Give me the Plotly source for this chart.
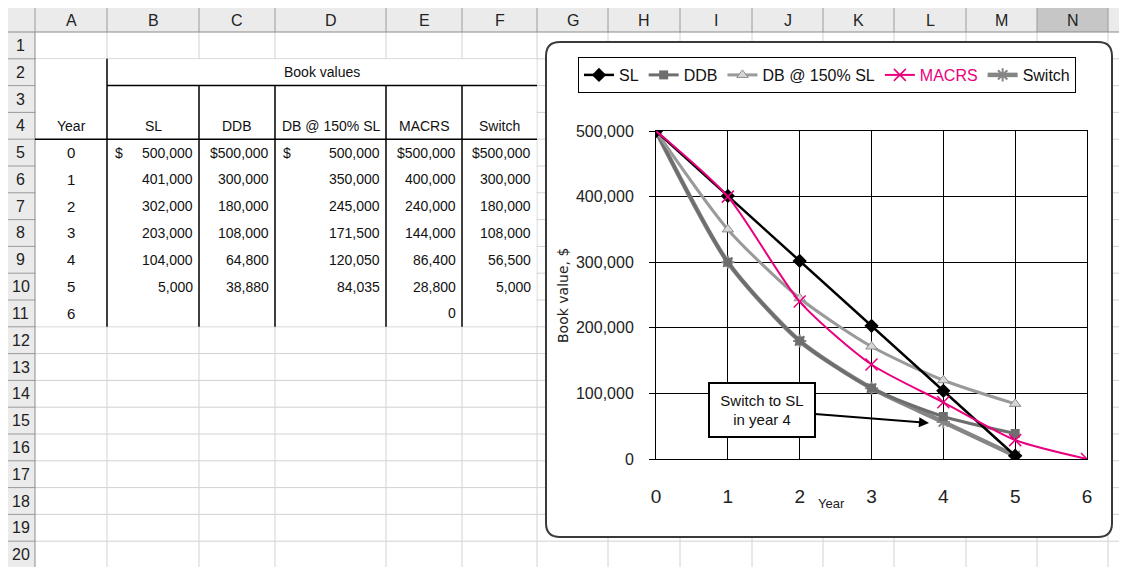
import plotly.graph_objects as go

# ---- data ----
years = [0, 1, 2, 3, 4, 5, 6]
sl = [500000, 401000, 302000, 203000, 104000, 5000]
ddb = [500000, 300000, 180000, 108000, 64800, 38880]
db150 = [500000, 350000, 245000, 171500, 120050, 84035]
macrs = [500000, 400000, 240000, 144000, 86400, 28800, 0]
switch = [500000, 300000, 180000, 108000, 56500, 5000]

series_names = ["SL", "DDB", "DB @ 150% SL", "MACRS", "Switch"]
col_letters = ["A", "B", "C", "D", "E", "F", "G", "H", "I", "J", "K", "L", "M", "N"]
row_numbers = list(range(1, 21))
y_ticks = [0, 100000, 200000, 300000, 400000, 500000]

W, H = 1127, 567
OFF = 8  # page margin of the html body
FONT = "Liberation Sans, Arial, sans-serif"
MAGENTA = "#e8007e"


def px(x):
    return (x - OFF) / W


def py(y):
    return 1 - (y - OFF) / H


# sheet geometry (pixels)
edges = [35, 107, 199, 275, 386, 462, 537, 608, 680, 752, 823, 894, 966, 1037, 1108]
head_top, head_bot, row_h = 6, 32, 26.8


def row_top(r):
    return head_bot + (r - 1) * row_h


shapes = []
annots = []


def line(x0, y0, x1, y1, color, width=1):
    shapes.append(dict(type="line", xref="paper", yref="paper", x0=px(x0), y0=py(y0),
                       x1=px(x1), y1=py(y1), line=dict(color=color, width=width), layer="below"))


def rect(x0, y0, x1, y1, fill, color=None, width=0):
    shapes.append(dict(type="rect", xref="paper", yref="paper", x0=px(x0), y0=py(y0),
                       x1=px(x1), y1=py(y1), fillcolor=fill,
                       line=dict(color=color or fill, width=width), layer="below"))


def text(x, y, s, anchor="center", size=14, color="#111", font=FONT, **kw):
    annots.append(dict(xref="paper", yref="paper", x=px(x), y=py(y), text=s, showarrow=False,
                       xanchor=anchor, yanchor="middle", font=dict(family=font, size=size, color=color), **kw))


# headers
rect(6, head_top, W + OFF, head_bot, "#ebebeb")
rect(6, head_bot, edges[0], H + OFF, "#ebebeb")
rect(edges[-2], head_top, edges[-1], head_bot, "#c6c6c6")

# cell gridlines
for x in edges[1:]:
    line(x, head_bot, x, H + OFF, "#d2d2d2")
for r in range(1, 21):
    line(edges[0], row_top(r + 1), W + OFF, row_top(r + 1), "#d2d2d2")

# table block (white, no gridlines)
rect(edges[0] + 0.5, row_top(2) + 0.5, edges[6] - 0.5, row_top(12) - 0.5, "white")

# header separators
for x in edges:
    line(x, head_top, x, head_bot, "#9a9a9a")
for r in range(1, 21):
    line(6, row_top(r + 1), edges[0], row_top(r + 1), "#9a9a9a")
line(6, head_bot, W + OFF, head_bot, "#8a8a8a")
line(edges[0], head_bot, edges[0], H + OFF, "#8a8a8a")

for i, c in enumerate(col_letters):
    text((edges[i] + edges[i + 1]) / 2, (head_top + head_bot) / 2 + 1, c, size=16, color="#222")
for r in row_numbers:
    text((6 + edges[0]) / 2, row_top(r) + row_h / 2, str(r), size=16, color="#222")

# table borders
line(edges[1], row_top(2), edges[1], row_top(12), "black", 1.5)
for x in edges[2:6]:
    line(x, row_top(3), x, row_top(12), "black", 1.5)
line(edges[1], row_top(3), edges[6], row_top(3), "black", 1.5)
line(edges[0], row_top(5), edges[6], row_top(5), "black", 1.5)

# table text
text((edges[1] + edges[6]) / 2, row_top(2) + row_h / 2, "Book values")
text((edges[0] + edges[1]) / 2, row_top(4) + row_h / 2, "Year")
for j, name in enumerate(series_names):
    text((edges[j + 1] + edges[j + 2]) / 2, row_top(4) + row_h / 2, name)
for i, yr in enumerate(years):
    text((edges[0] + edges[1]) / 2, row_top(5 + i) + row_h / 2, str(yr), size=15)

table_cols = [sl, ddb, db150, macrs, switch]
split_dollar = [True, False, True, False, False]
for j, vals in enumerate(table_cols):
    left, right = edges[j + 1], edges[j + 2]
    for i, v in enumerate(vals):
        yc = row_top(5 + i) + row_h / 2
        s = f"{v:,}"
        if i == 0:
            if split_dollar[j]:
                text(left + 6, yc, "$", anchor="left")
            else:
                s = "$" + s
        text(right - 4, yc, s, anchor="right")

# chart area (rounded box)
cx0, cy0, cx1, cy1, rr = 546, 42, 1112, 537, 14
path = (f"M {px(cx0 + rr)},{py(cy0)} L {px(cx1 - rr)},{py(cy0)} "
        f"Q {px(cx1)},{py(cy0)} {px(cx1)},{py(cy0 + rr)} L {px(cx1)},{py(cy1 - rr)} "
        f"Q {px(cx1)},{py(cy1)} {px(cx1 - rr)},{py(cy1)} L {px(cx0 + rr)},{py(cy1)} "
        f"Q {px(cx0)},{py(cy1)} {px(cx0)},{py(cy1 - rr)} L {px(cx0)},{py(cy0 + rr)} "
        f"Q {px(cx0)},{py(cy0)} {px(cx0 + rr)},{py(cy0)} Z")
shapes.append(dict(type="path", xref="paper", yref="paper", path=path, fillcolor="white",
                   line=dict(color="#3a3a3a", width=2), layer="below"))

fig = go.Figure()
SM = 0.7

# draw order: Switch, DDB, DB150, SL, MACRS ; legend order by rank
fig.add_trace(go.Scatter(x=years[:6], y=switch, name="Switch", legendrank=5, mode="lines+markers",
                         line=dict(color="#858585", width=4.5, shape="spline", smoothing=SM),
                         marker=dict(symbol="asterisk-open", size=11, line=dict(color="#5a5a5a", width=2))))
fig.add_trace(go.Scatter(x=years[:6], y=ddb, name="DDB", legendrank=2, mode="lines+markers",
                         line=dict(color="#6e6e6e", width=3, shape="spline", smoothing=SM),
                         marker=dict(symbol="square", size=9, color="#6e6e6e")))
fig.add_trace(go.Scatter(x=years[:6], y=db150, name="DB @ 150% SL", legendrank=3, mode="lines+markers",
                         line=dict(color="#9a9a9a", width=3, shape="spline", smoothing=SM),
                         marker=dict(symbol="triangle-up", size=10, color="#d6d6d6",
                                     line=dict(color="#8c8c8c", width=1))))
fig.add_trace(go.Scatter(x=years[:6], y=sl, name="SL", legendrank=1, mode="lines+markers",
                         line=dict(color="black", width=2.5),
                         marker=dict(symbol="diamond", size=11, color="black")))
fig.add_trace(go.Scatter(x=years, y=macrs, name=f"<span style='color:{MAGENTA}'>MACRS</span>",
                         legendrank=4, mode="lines+markers",
                         line=dict(color=MAGENTA, width=2, shape="spline", smoothing=SM),
                         marker=dict(symbol="x-thin-open", size=12, line=dict(color=MAGENTA, width=1.5))))

annots.append(dict(xref="x", yref="y", x=3.8, y=54900, ax=-167, ay=-13, axref="pixel", ayref="pixel",
                   text="Switch to SL<br>in year 4", showarrow=True, arrowhead=2, arrowsize=1,
                   arrowwidth=2, arrowcolor="black", standoff=0, bgcolor="white", bordercolor="black",
                   borderwidth=2, borderpad=4, width=96, height=44,
                   font=dict(family=FONT, size=15, color="#111")))
text(831, 503, "Year", size=13, color="#222")
text(563, 296, "Book value, $", size=14, color="#222", font="DejaVu Sans", textangle=-90)

axis_common = dict(showgrid=True, gridcolor="black", gridwidth=1, showline=True, linecolor="black",
                   linewidth=1, mirror=True, zeroline=False, automargin=False)
fig.update_xaxes(domain=[px(656), px(1087)], range=[0, 6], tickvals=years, ticks="",
                 ticklabelstandoff=20, tickfont=dict(family=FONT, size=19, color="#222"), **axis_common)
fig.update_yaxes(domain=[py(459), py(131)], range=[0, 500000], tickvals=y_ticks, tickformat=",d",
                 ticks="outside", ticklen=6, tickcolor="black", ticklabelstandoff=12,
                 tickfont=dict(family=FONT, size=16, color="#222"), **axis_common)

fig.update_layout(
    width=W, height=H, margin=dict(l=0, r=0, t=0, b=0, autoexpand=False),
    paper_bgcolor="white", plot_bgcolor="rgba(0,0,0,0)",
    font=dict(family=FONT, color="#111"),
    shapes=shapes, annotations=annots,
    legend=dict(orientation="h", x=px(578), y=py(57), xanchor="left", yanchor="top",
                bgcolor="white", bordercolor="black", borderwidth=1,
                font=dict(family=FONT, size=16, color="#111"), itemwidth=30),
)

fig.write_html("out.html")
